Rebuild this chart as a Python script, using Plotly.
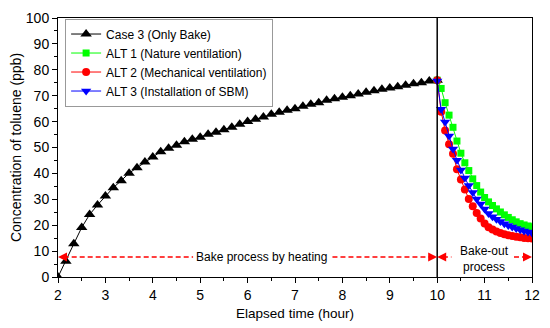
import plotly.graph_objects as go

# Case 3 (Only Bake): 2 h to 10 h, 10-min steps
t_bake = [2 + i / 6 for i in range(49)]
case3 = [0, 6.1, 12.8, 19.1, 24.1, 27.8, 31.3, 34.5, 37.2, 40.1, 42.2, 44.4, 46.3,
         48.4, 49.7, 50.9, 52.2, 53.2, 54.0, 55.1, 55.9, 56.9, 57.8, 59.0, 60.0,
         60.9, 61.8, 62.8, 63.6, 64.4, 65.0, 65.9, 66.7, 67.3, 68.2, 68.8, 69.4,
         70.0, 70.7, 71.3, 71.9, 72.5, 73.0, 73.5, 74.0, 74.6, 75.0, 75.7, 76.0]

# Bake-out: 10 h to 12 h, 5-min steps
t_out = [10 + k / 12 for k in range(25)]
alt1 = [76.0, 72.8, 67.3, 62.5, 57.8, 52.5, 47.8, 44.1, 41.1, 37.9, 35.3, 32.8, 30.7,
        29.0, 27.6, 26.3, 25.1, 24.0, 23.0, 22.1, 21.3, 20.6, 20.1, 19.7, 19.4]
alt2 = [76.0, 63.8, 56.6, 51.3, 47.6, 41.6, 37.6, 33.8, 30.1, 27.3, 24.7, 22.6, 20.7,
        19.2, 18.3, 17.6, 17.0, 16.5, 16.1, 15.8, 15.5, 15.3, 15.1, 15.0, 14.9]
alt3 = [75.7, 64.8, 59.8, 54.4, 49.4, 45.1, 41.3, 38.2, 35.3, 32.6, 30.1, 28.2, 26.3,
        24.5, 23.3, 22.3, 21.4, 20.6, 19.9, 19.3, 18.7, 18.2, 17.8, 17.4, 17.0]

names = ["Case 3 (Only Bake)", "ALT 1 (Nature ventilation)",
         "ALT 2 (Mechanical ventilation)", "ALT 3 (Installation of SBM)"]

font = "Liberation Sans, Arial, sans-serif"
fig = go.Figure()
fig.add_trace(go.Scatter(x=t_bake, y=case3, mode="lines+markers", name=names[0],
                         line=dict(color="black", width=1),
                         marker=dict(symbol="triangle-up", size=10, color="black")))
fig.add_trace(go.Scatter(x=t_out, y=alt1, mode="lines+markers", name=names[1],
                         line=dict(color="#00ff00", width=1),
                         marker=dict(symbol="square", size=7, color="#00ff00")))
fig.add_trace(go.Scatter(x=t_out, y=alt2, mode="lines+markers", name=names[2],
                         line=dict(color="#ff0000", width=1),
                         marker=dict(symbol="circle", size=8, color="#ff0000")))
fig.add_trace(go.Scatter(x=t_out, y=alt3, mode="lines+markers", name=names[3],
                         line=dict(color="#0000ff", width=1),
                         marker=dict(symbol="triangle-down", size=9, color="#0000ff")))

# vertical separator at 10 h
fig.add_shape(type="line", x0=10, x1=10, y0=0, y1=100, xref="x", yref="y",
              line=dict(color="black", width=1.5))

arr_y = 7.7
red = "#ff0000"
# dashed segments
for x0, x1 in [(2.12, 4.85), (7.79, 9.88), (10.12, 10.3), (11.62, 11.88)]:
    fig.add_shape(type="line", x0=x0, x1=x1, y0=arr_y, y1=arr_y, xref="x", yref="y",
                  line=dict(color=red, width=1.5, dash="5px,3px"))
# arrow heads
for tip, tail in [(2.0, 2.15), (10.0, 9.85), (10.0, 10.15), (12.0, 11.85)]:
    fig.add_annotation(x=tip, y=arr_y, ax=tail, ay=arr_y, xref="x", yref="y",
                       axref="x", ayref="y", text="", showarrow=True,
                       arrowhead=2, arrowsize=1.2, arrowwidth=1.5, arrowcolor=red)

fig.add_annotation(x=6.3, y=arr_y, text="Bake process by heating", showarrow=False,
                   xref="x", yref="y", font=dict(family=font, size=12, color="black"))
fig.add_annotation(x=11.0, y=7.1, text="Bake-out<br>process", showarrow=False,
                   xref="x", yref="y", font=dict(family=font, size=12, color="black"))

axis_common = dict(showline=True, linecolor="black", linewidth=1, mirror=True,
                   ticks="outside", ticklen=5, tickcolor="black", showgrid=False,
                   zeroline=False, tickfont=dict(family=font, size=14, color="black"))

fig.update_xaxes(range=[2, 12], dtick=1, tick0=2,
                 minor=dict(dtick=0.5, ticks="outside", ticklen=3, tickcolor="black"),
                 title=dict(text="Elapsed time (hour)",
                            font=dict(family=font, size=13.5, color="black"), standoff=6),
                 **axis_common)
fig.update_yaxes(range=[0, 100], dtick=10,
                 minor=dict(dtick=5, ticks="outside", ticklen=3, tickcolor="black"),
                 title=dict(text="Concentration of toluene (ppb)",
                            font=dict(family=font, size=14, color="black"), standoff=0),
                 **axis_common)

fig.update_layout(
    width=550, height=328,
    margin=dict(l=58, r=12, t=10, b=51),
    plot_bgcolor="white", paper_bgcolor="white",
    legend=dict(x=0.015, y=0.998, xanchor="left", yanchor="top",
                bgcolor="white", bordercolor="#999999", borderwidth=1,
                font=dict(family=font, size=12, color="black"),
                tracegroupgap=0, itemwidth=30),
    showlegend=True,
)

fig.write_html("out.html", config={"displayModeBar": False},
               post_script="document.body.style.margin='0';")
